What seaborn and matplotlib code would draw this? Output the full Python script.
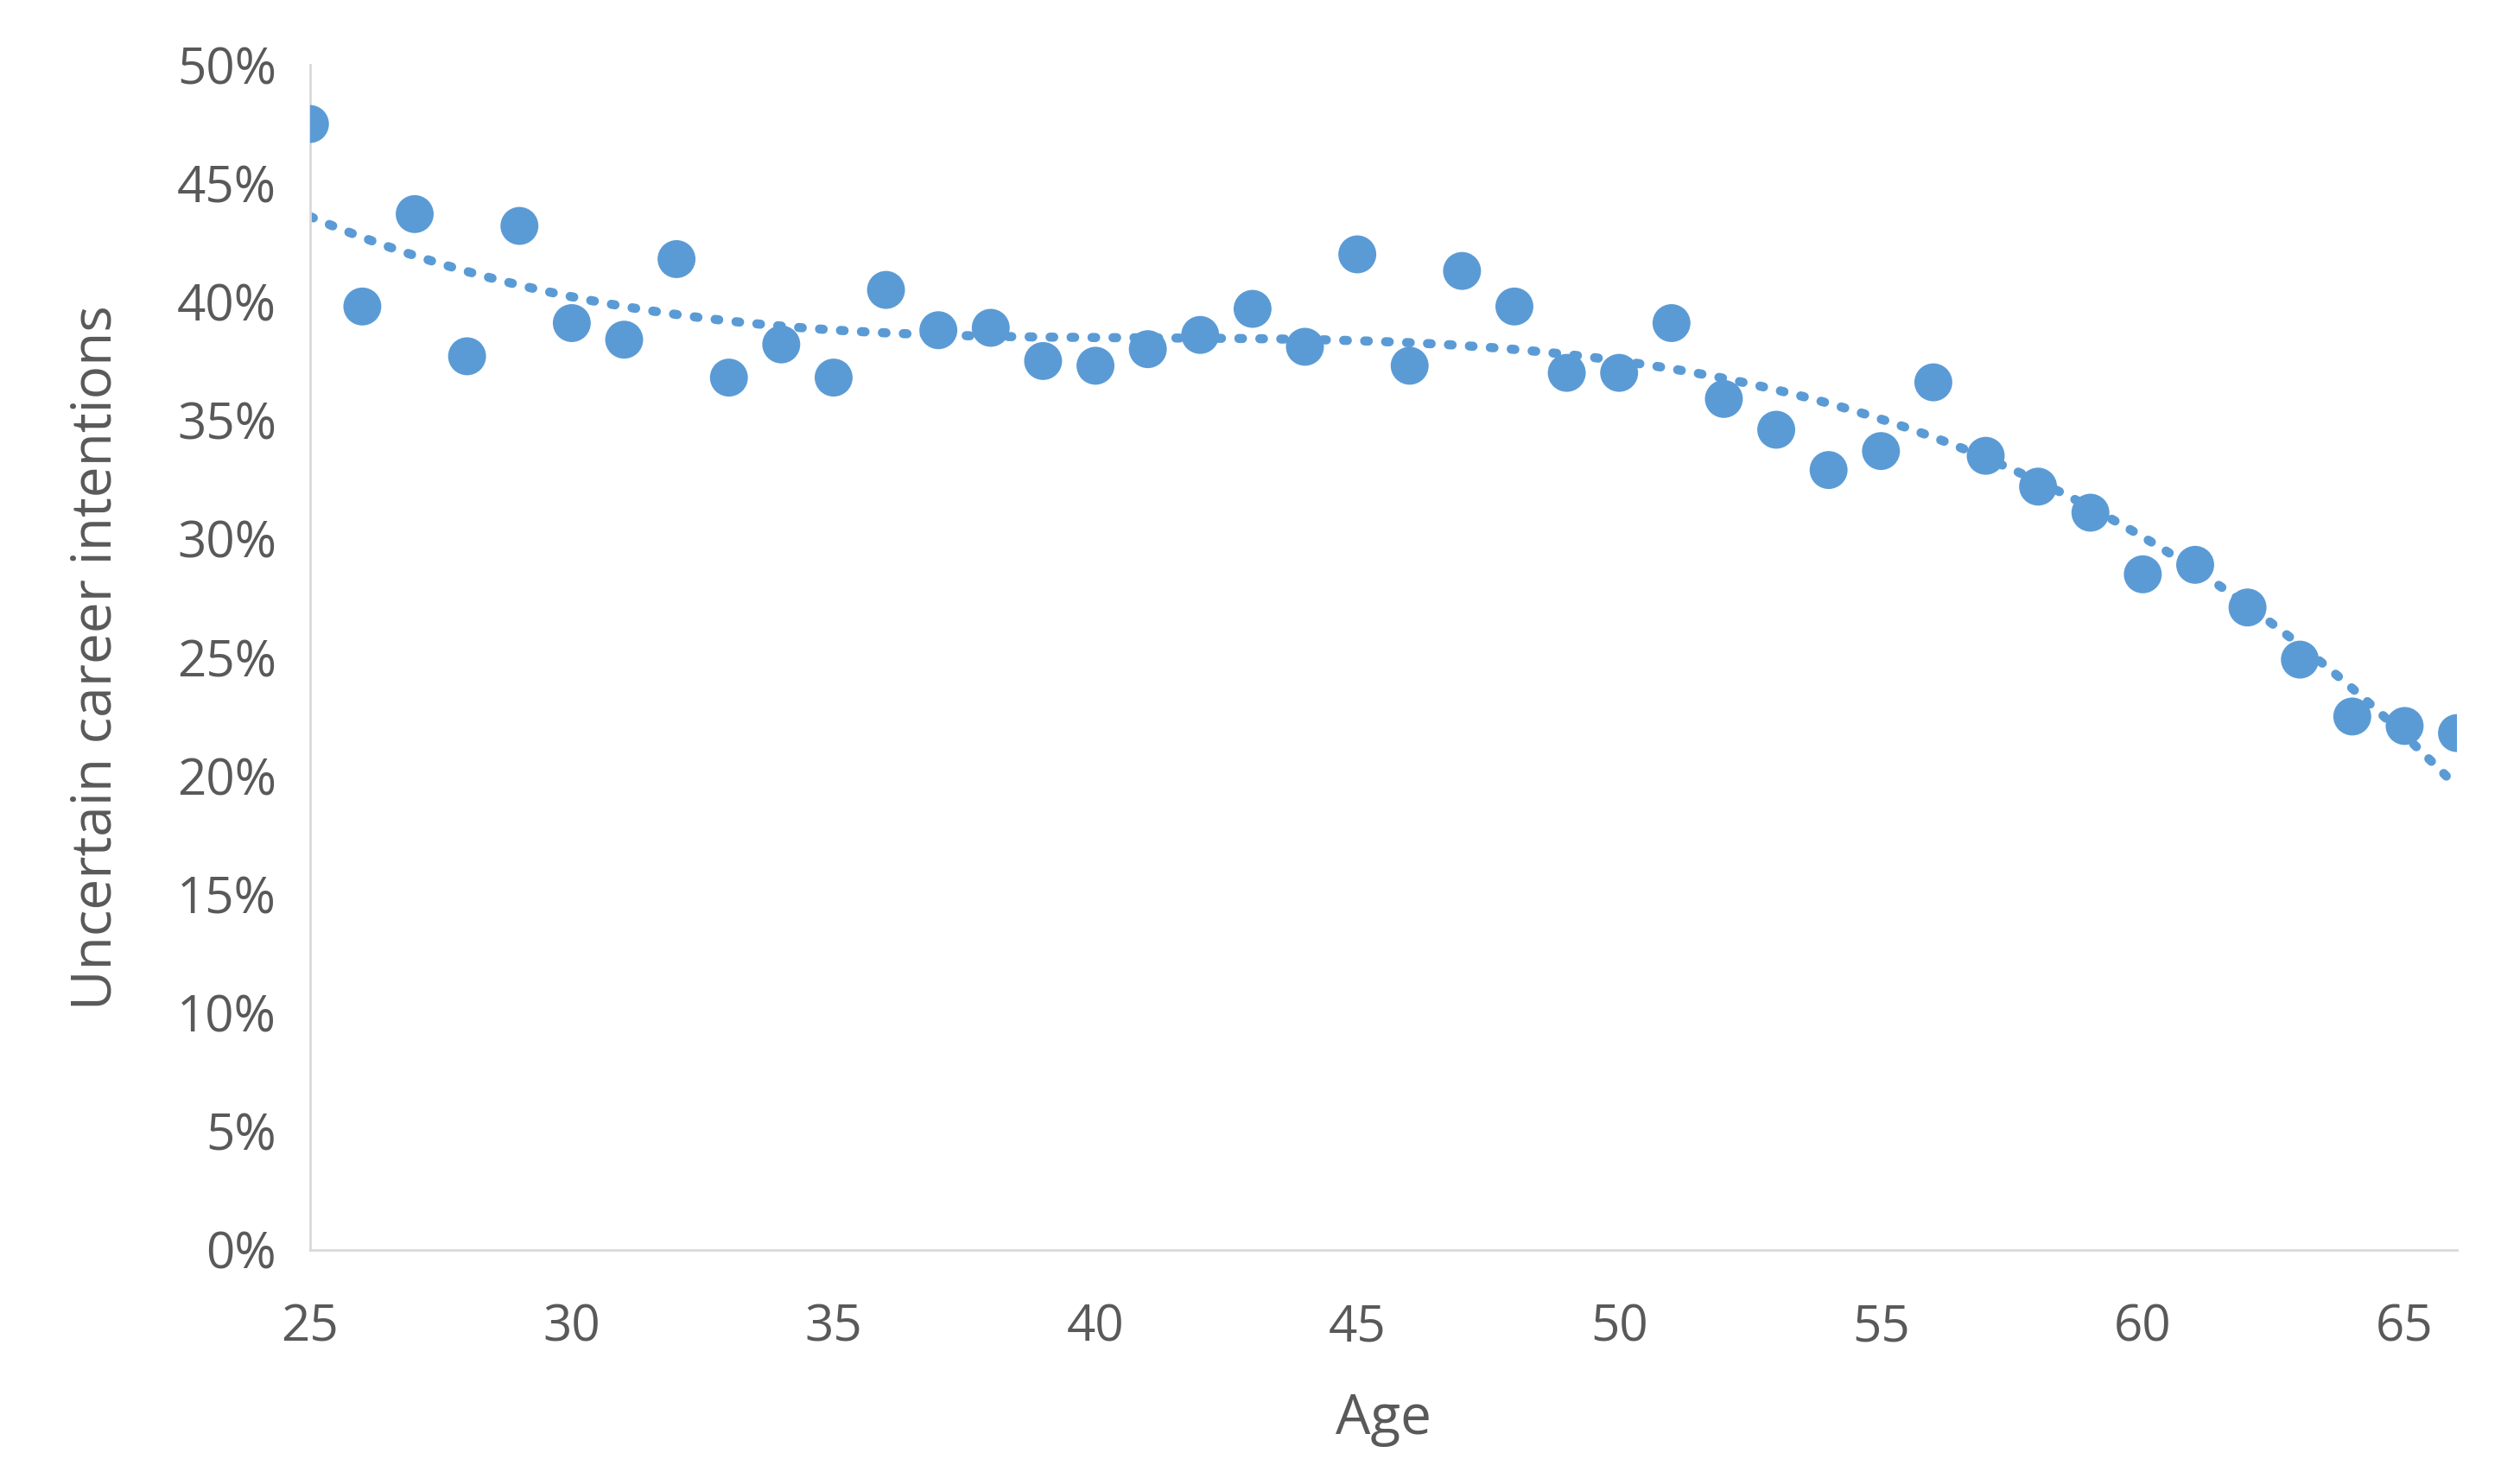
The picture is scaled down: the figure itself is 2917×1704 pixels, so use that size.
import numpy as np
import pandas as pd
import matplotlib
matplotlib.use('Agg')
import matplotlib.pyplot as plt
import seaborn as sns
from matplotlib.ticker import PercentFormatter

sns.set_theme(style="white")
plt.rcParams['font.family'] = ['Open Sans', 'DejaVu Sans']

# share of respondents with uncertain career intentions, by age
ages = list(range(25, 67))
uncertain = [47.5, 39.8, 43.7, 37.7, 43.2, 39.1, 38.4, 41.8, 36.8, 38.2,
             36.8, 40.5, 38.8, 38.9, 37.5, 37.3, 38.0, 38.6, 39.7, 38.1,
             42.0, 37.3, 41.3, 39.8, 37.0, 37.0, 39.1, 35.9, 34.6, 32.9,
             33.7, 36.6, 33.5, 32.2, 31.1, 28.5, 28.9, 27.1, 24.9, 22.5,
             22.1, 21.8]

df = pd.DataFrame({"Age": ages, "Uncertain": uncertain})

# polynomial trendline fitted to the points
coef = np.polyfit(df["Age"], df["Uncertain"], 3)
trend = pd.DataFrame({"Age": np.linspace(25, 66, 200)})
trend["Uncertain"] = np.polyval(coef, trend["Age"])

blue = "#5B9BD5"
grey = "#595959"

fig = plt.figure(figsize=(14.585, 8.52), dpi=200)
ax = fig.add_axes([0.123, 0.151, 0.852, 0.805])

sns.lineplot(data=trend, x="Age", y="Uncertain", ax=ax, color=blue,
             linestyle=(0, (0.4, 1.9)), linewidth=3.8, dash_capstyle="round")
sns.scatterplot(data=df, x="Age", y="Uncertain", ax=ax, color=blue,
                s=250, edgecolor="none", zorder=3)

ax.set_xlim(25, 66)
ax.set_ylim(0, 50)
ax.set_xticks(range(25, 66, 5))
ax.set_yticks(range(0, 51, 5))
ax.yaxis.set_major_formatter(PercentFormatter(decimals=0))
ax.tick_params(axis="both", length=0, labelsize=21, colors=grey)
ax.tick_params(axis="x", pad=22)
ax.tick_params(axis="y", pad=14)

ax.set_xlabel("Age", fontsize=23, color=grey, labelpad=16)
ax.set_ylabel("Uncertain career intentions", fontsize=23, color=grey, labelpad=22)

for side in ["top", "right"]:
    ax.spines[side].set_visible(False)
for side in ["left", "bottom"]:
    ax.spines[side].set_color("#d9d9d9")
    ax.spines[side].set_linewidth(1.0)

fig.savefig("out.png", dpi=200)
